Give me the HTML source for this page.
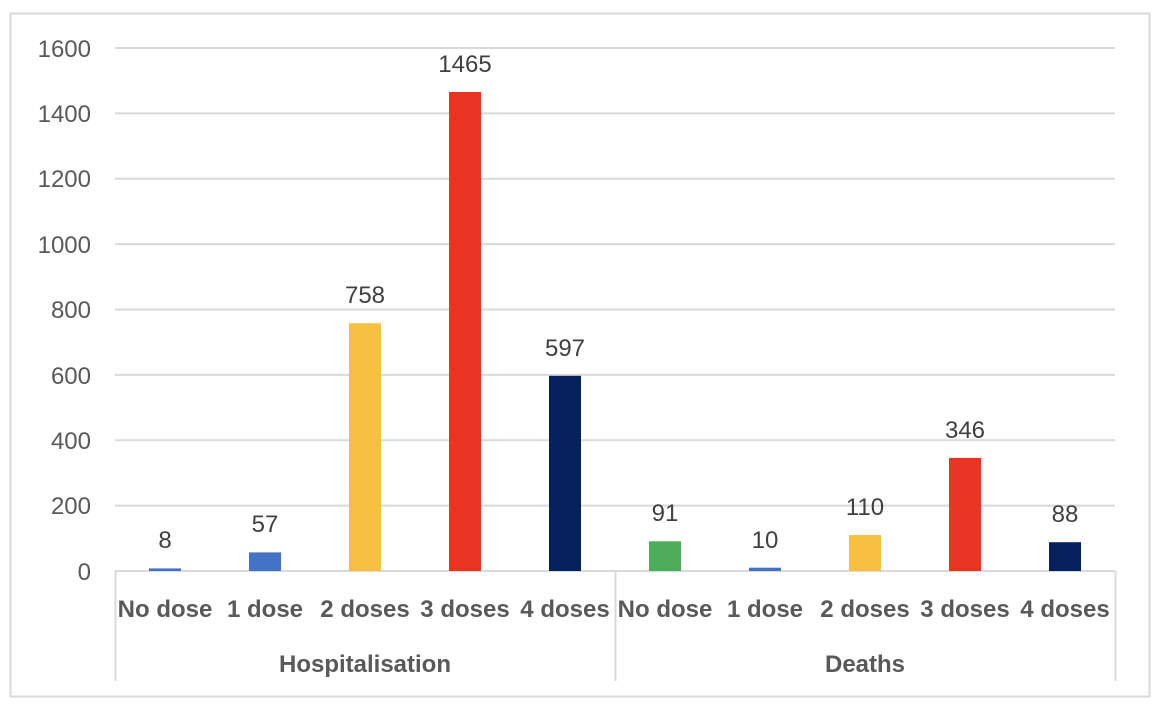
<!DOCTYPE html>
<html><head><meta charset="utf-8"><style>body{margin:0;background:#fff}</style></head><body>
<svg width="1170" height="710" xmlns="http://www.w3.org/2000/svg" font-family="Liberation Sans, sans-serif">
<rect x="10.5" y="13.5" width="1139" height="683" fill="#fff" stroke="#d9d9d9" stroke-width="2"/>
<g stroke="#d9d9d9" stroke-width="2">
<line x1="115" x2="1115" y1="48" y2="48"/><line x1="115" x2="1115" y1="113.4" y2="113.4"/>
<line x1="115" x2="1115" y1="178.8" y2="178.8"/><line x1="115" x2="1115" y1="244.1" y2="244.1"/>
<line x1="115" x2="1115" y1="309.5" y2="309.5"/><line x1="115" x2="1115" y1="374.9" y2="374.9"/>
<line x1="115" x2="1115" y1="440.3" y2="440.3"/><line x1="115" x2="1115" y1="505.6" y2="505.6"/>
<line x1="115" x2="1115" y1="571" y2="571"/>
<line x1="115.5" x2="115.5" y1="571" y2="681"/><line x1="615.5" x2="615.5" y1="571" y2="681"/><line x1="1115.5" x2="1115.5" y1="571" y2="681"/>
</g>
<g font-size="24" fill="#595959" text-anchor="end">
<text x="91" y="580">0</text><text x="91" y="514">200</text><text x="91" y="449">400</text>
<text x="91" y="384">600</text><text x="91" y="318">800</text><text x="91" y="253">1000</text>
<text x="91" y="187">1200</text><text x="91" y="122">1400</text><text x="91" y="57">1600</text>
</g>
<g>
<rect x="149" y="568.4" width="32" height="2.6" fill="#4472c4"/>
<rect x="249" y="552.4" width="32" height="18.6" fill="#4472c4"/>
<rect x="349" y="323.2" width="32" height="247.8" fill="#f6c143"/>
<rect x="449" y="92" width="32" height="479" fill="#e93323"/>
<rect x="549" y="375.8" width="32" height="195.2" fill="#06205c"/>
<rect x="649" y="541.3" width="32" height="29.7" fill="#4ead5b"/>
<rect x="749" y="567.7" width="32" height="3.3" fill="#4472c4"/>
<rect x="849" y="535" width="32" height="36" fill="#f6c143"/>
<rect x="949" y="457.9" width="32" height="113.1" fill="#e93323"/>
<rect x="1049" y="542.2" width="32" height="28.8" fill="#06205c"/>
</g>
<g font-size="24" fill="#404040" text-anchor="middle">
<text x="165" y="548">8</text><text x="265" y="532">57</text><text x="365" y="303">758</text>
<text x="465" y="72">1465</text><text x="565" y="356">597</text><text x="665" y="521">91</text>
<text x="765" y="548">10</text><text x="865" y="515">110</text><text x="965" y="438">346</text>
<text x="1065" y="522">88</text>
</g>
<g font-size="24" font-weight="bold" fill="#595959" text-anchor="middle">
<text x="165" y="617">No dose</text><text x="265" y="617">1 dose</text><text x="365" y="617">2 doses</text>
<text x="465" y="617">3 doses</text><text x="565" y="617">4 doses</text>
<text x="665" y="617">No dose</text><text x="765" y="617">1 dose</text><text x="865" y="617">2 doses</text>
<text x="965" y="617">3 doses</text><text x="1065" y="617">4 doses</text>
<text x="365" y="672">Hospitalisation</text><text x="865" y="672">Deaths</text>
</g>
</svg>
</body></html>
